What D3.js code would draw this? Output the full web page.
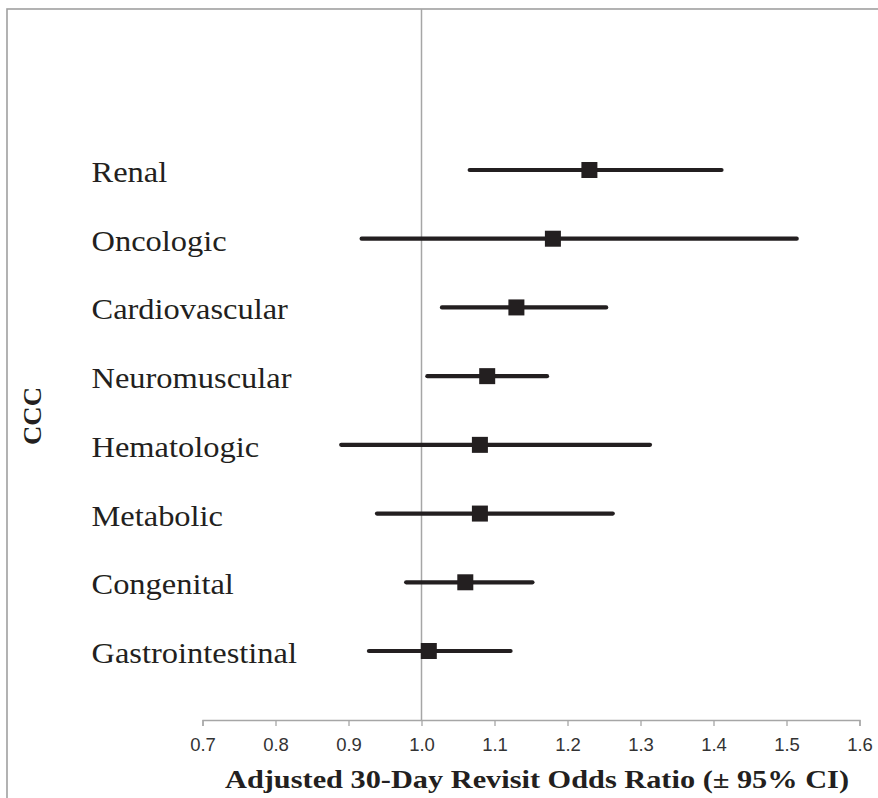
<!DOCTYPE html>
<html><head><meta charset="utf-8">
<script src="https://cdn.jsdelivr.net/npm/d3@7"></script>
<style>html,body{margin:0;padding:0;background:#fff;}</style>
</head><body>
<script>
const categories = ["Renal","Oncologic","Cardiovascular","Neuromuscular","Hematologic","Metabolic","Congenital","Gastrointestinal"];
const oddsRatio = [1.23, 1.18, 1.13, 1.09, 1.08, 1.08, 1.06, 1.01];
const ciLower   = [1.066, 0.918, 1.028, 1.008, 0.890, 0.939, 0.979, 0.928];
const ciUpper   = [1.411, 1.514, 1.253, 1.172, 1.313, 1.262, 1.152, 1.122];
const xTicks = [0.7,0.8,0.9,1.0,1.1,1.2,1.3,1.4,1.5,1.6];
const xTitle = "Adjusted 30-Day Revisit Odds Ratio (\u00b1 95% CI)";
const yTitle = "CCC";

const W = 878, H = 798;
const svg = d3.select("body").append("svg").attr("width", W).attr("height", H);

// outer border
svg.append("rect").attr("x",7).attr("y",9).attr("width",W+10).attr("height",H+10)
  .attr("fill","none").attr("stroke","#a0a0a0").attr("stroke-width",1.6);

const x = d3.scaleLinear().domain([0.7,1.6]).range([202.5, 859.5]);
const axisY = 720;
const y = d3.scaleLinear().domain([0, categories.length - 1]).range([170, 651]);

// reference line at 1.0
svg.append("line").attr("x1",x(1.0)).attr("x2",x(1.0)).attr("y1",9).attr("y2",axisY)
  .attr("stroke","#a6a6a6").attr("stroke-width",1.5);

// x axis
const axis = svg.append("g").attr("transform",`translate(0,${axisY})`)
  .call(d3.axisBottom(x).tickValues(xTicks).tickFormat(d3.format(".1f")).tickSizeOuter(0).tickSize(6).tickPadding(12));
axis.attr("font-size",null).attr("font-family",null);
axis.select(".domain").attr("stroke","#a6a6a6").attr("stroke-width",1.3);
axis.selectAll(".tick line").attr("stroke","#a6a6a6").attr("stroke-width",1.3);
axis.selectAll(".tick text")
  .style("font-family","'Liberation Sans', Arial, sans-serif")
  .style("font-size","18.5px").attr("fill","#333");

// CI lines
svg.append("g").selectAll("line").data(categories).join("line")
  .attr("x1",(d,i)=>x(ciLower[i])).attr("x2",(d,i)=>x(ciUpper[i]))
  .attr("y1",(d,i)=>y(i)).attr("y2",(d,i)=>y(i))
  .attr("stroke","#231f20").attr("stroke-width",4.2).attr("stroke-linecap","round");

// markers
const s = 16;
svg.append("g").selectAll("rect").data(categories).join("rect")
  .attr("x",(d,i)=>x(oddsRatio[i]) - s/2).attr("y",(d,i)=>y(i) - s/2)
  .attr("width",s).attr("height",s).attr("fill","#231f20");

// category labels
svg.append("g").selectAll("text").data(categories).join("text")
  .attr("transform",(d,i)=>`translate(91.5,${y(i)+12}) scale(1.1,1)`)
  .attr("font-family","'Liberation Serif', 'Times New Roman', serif")
  .attr("font-size",29.5).attr("fill","#231f20").text(d=>d);

// x title
svg.append("text").attr("x",537).attr("y",788).attr("text-anchor","middle")
  .attr("font-family","'Liberation Serif', 'Times New Roman', serif").attr("font-weight","bold")
  .attr("font-size",25).attr("fill","#231f20")
  .attr("textLength",624).attr("lengthAdjust","spacingAndGlyphs").text(xTitle);

// y title
svg.append("text").attr("transform","translate(41,416) rotate(-90)").attr("text-anchor","middle")
  .attr("font-family","'Liberation Serif', 'Times New Roman', serif").attr("font-weight","bold")
  .attr("font-size",25).attr("fill","#231f20")
  .attr("textLength",58).attr("lengthAdjust","spacingAndGlyphs").text(yTitle);
</script>
</body></html>
